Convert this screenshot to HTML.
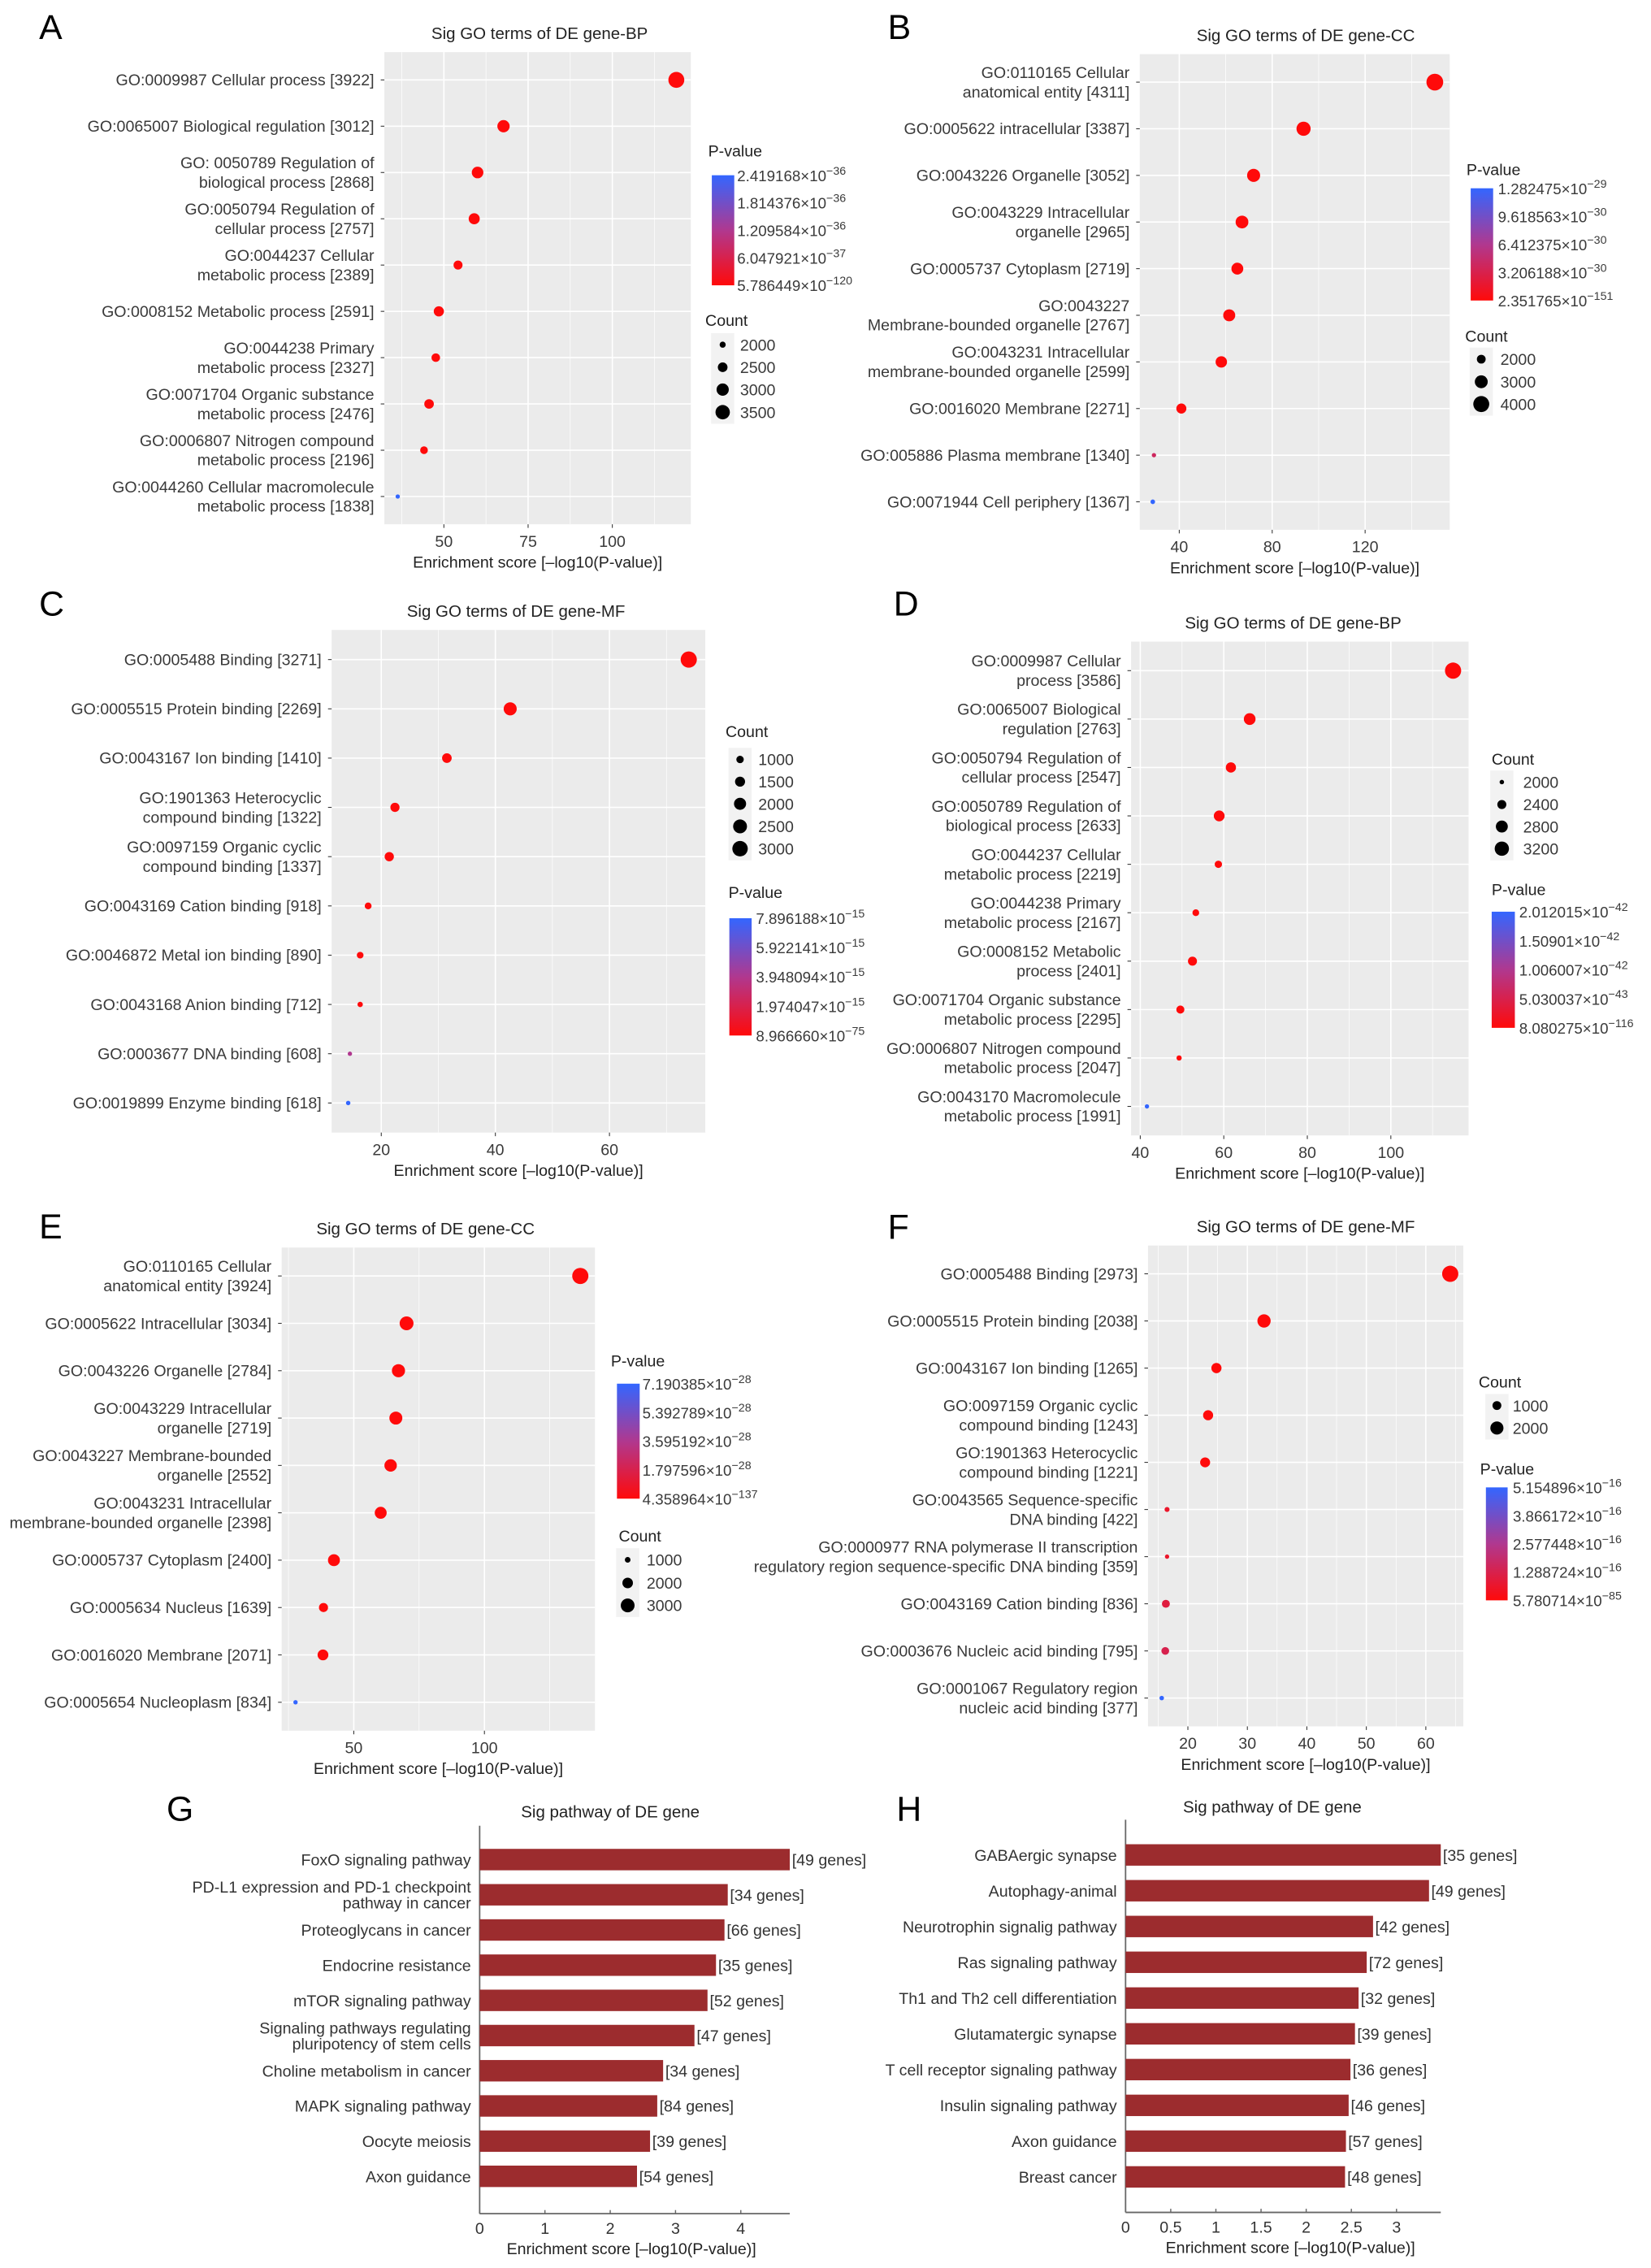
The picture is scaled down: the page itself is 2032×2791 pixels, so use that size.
<!DOCTYPE html>
<html><head><meta charset="utf-8"><title>GO enrichment figure</title>
<style>
html,body{margin:0;padding:0;background:#fff;}
svg{display:block;}
text{font-family:"Liberation Sans",Arial,sans-serif;}
</style></head>
<body>
<svg id="fig" xmlns="http://www.w3.org/2000/svg" width="2032" height="2791" viewBox="0 0 1140 1566" preserveAspectRatio="none">
<defs>
<linearGradient id="pgrad" x1="0" y1="0" x2="0" y2="1">
<stop offset="0" stop-color="#3366ff"/><stop offset="0.5" stop-color="#b0388f"/><stop offset="1" stop-color="#ff0a0a"/>
</linearGradient>
</defs>
</svg>
<script>
// ---------- DATA ----------
const aLabels = ["GO:0009987 Cellular process [3922]","GO:0065007 Biological regulation [3012]","GO: 0050789 Regulation of|biological process [2868]","GO:0050794 Regulation of|cellular process [2757]","GO:0044237 Cellular|metabolic process [2389]","GO:0008152 Metabolic process [2591]","GO:0044238 Primary|metabolic process [2327]","GO:0071704 Organic substance|metabolic process [2476]","GO:0006807 Nitrogen compound|metabolic process [2196]","GO:0044260 Cellular macromolecule|metabolic process [1838]"];
const aScores = [119, 67.7, 60, 59, 54.2, 48.5, 47.6, 45.6, 44.1, 36.3];
const aCounts = [3922, 3012, 2868, 2757, 2389, 2591, 2327, 2476, 2196, 1838];
const aTicks = [50, 75, 100];
const aPLabels = [["2.419168×10","−36"],["1.814376×10","−36"],["1.209584×10","−36"],["6.047921×10","−37"],["5.786449×10","−120"]];
const aCountBreaks = [2000, 2500, 3000, 3500];

const bLabels = ["GO:0110165 Cellular|anatomical entity [4311]","GO:0005622 intracellular [3387]","GO:0043226 Organelle [3052]","GO:0043229 Intracellular|organelle [2965]","GO:0005737 Cytoplasm [2719]","GO:0043227|Membrane-bounded organelle [2767]","GO:0043231 Intracellular|membrane-bounded organelle [2599]","GO:0016020 Membrane [2271]","GO:005886 Plasma membrane [1340]","GO:0071944 Cell periphery [1367]"];
const bScores = [150, 93.5, 72, 67, 65, 61.5, 58.1, 40.9, 29.1, 28.6];
const bCounts = [4311, 3387, 3052, 2965, 2719, 2767, 2599, 2271, 1340, 1367];
const bTicks = [40, 80, 120];
const bPLabels = [["1.282475×10","−29"],["9.618563×10","−30"],["6.412375×10","−30"],["3.206188×10","−30"],["2.351765×10","−151"]];
const bCountBreaks = [2000, 3000, 4000];

const cLabels = ["GO:0005488 Binding [3271]","GO:0005515 Protein binding [2269]","GO:0043167 Ion binding [1410]","GO:1901363 Heterocyclic|compound binding [1322]","GO:0097159 Organic cyclic|compound binding [1337]","GO:0043169 Cation binding [918]","GO:0046872 Metal ion binding [890]","GO:0043168 Anion binding [712]","GO:0003677 DNA binding [608]","GO:0019899 Enzyme binding [618]"];
const cScores = [73.9, 42.6, 31.5, 22.4, 21.4, 17.7, 16.3, 16.3, 14.5, 14.2];
const cCounts = [3271, 2269, 1410, 1322, 1337, 918, 890, 712, 608, 618];
const cTicks = [20, 40, 60];
const cPLabels = [["7.896188×10","−15"],["5.922141×10","−15"],["3.948094×10","−15"],["1.974047×10","−15"],["8.966660×10","−75"]];
const cCountBreaks = [1000, 1500, 2000, 2500, 3000];

const dLabels = ["GO:0009987 Cellular|process [3586]","GO:0065007 Biological|regulation [2763]","GO:0050794 Regulation of|cellular process [2547]","GO:0050789 Regulation of|biological process [2633]","GO:0044237 Cellular|metabolic process [2219]","GO:0044238 Primary|metabolic process [2167]","GO:0008152 Metabolic|process [2401]","GO:0071704 Organic substance|metabolic process [2295]","GO:0006807 Nitrogen compound|metabolic process [2047]","GO:0043170 Macromolecule|metabolic process [1991]"];
const dScores = [114.9, 66.2, 61.7, 58.9, 58.7, 53.3, 52.5, 49.6, 49.3, 41.6];
const dCounts = [3586, 2763, 2547, 2633, 2219, 2167, 2401, 2295, 2047, 1991];
const dTicks = [40, 60, 80, 100];
const dPLabels = [["2.012015×10","−42"],["1.50901×10","−42"],["1.006007×10","−42"],["5.030037×10","−43"],["8.080275×10","−116"]];
const dCountBreaks = [2000, 2400, 2800, 3200];

const eLabels = ["GO:0110165 Cellular|anatomical entity [3924]","GO:0005622 Intracellular [3034]","GO:0043226 Organelle [2784]","GO:0043229 Intracellular|organelle [2719]","GO:0043227  Membrane-bounded|organelle [2552]","GO:0043231 Intracellular|membrane-bounded organelle [2398]","GO:0005737 Cytoplasm [2400]","GO:0005634 Nucleus [1639]","GO:0016020 Membrane [2071]","GO:0005654 Nucleoplasm [834]"];
const eScores = [136.7, 70.2, 67.1, 66.1, 64.1, 60.3, 42.4, 38.4, 38.2, 27.7];
const eCounts = [3924, 3034, 2784, 2719, 2552, 2398, 2400, 1639, 2071, 834];
const eTicks = [50, 100];
const ePLabels = [["7.190385×10","−28"],["5.392789×10","−28"],["3.595192×10","−28"],["1.797596×10","−28"],["4.358964×10","−137"]];
const eCountBreaks = [1000, 2000, 3000];

const fLabels = ["GO:0005488 Binding [2973]","GO:0005515 Protein binding [2038]","GO:0043167 Ion binding [1265]","GO:0097159 Organic cyclic|compound  binding [1243]","GO:1901363 Heterocyclic|compound  binding [1221]","GO:0043565 Sequence-specific|DNA binding [422]","GO:0000977 RNA polymerase II transcription|regulatory region sequence-specific DNA binding [359]","GO:0043169 Cation binding [836]","GO:0003676 Nucleic acid binding [795]","GO:0001067 Regulatory region|nucleic acid binding [377]"];
const fScores = [64.1, 32.8, 24.8, 23.4, 22.9, 16.5, 16.5, 16.3, 16.2, 15.6];
const fCounts = [2973, 2038, 1265, 1243, 1221, 422, 359, 836, 795, 377];
const fTicks = [20, 30, 40, 50, 60];
const fPLabels = [["5.154896×10","−16"],["3.866172×10","−16"],["2.577448×10","−16"],["1.288724×10","−16"],["5.780714×10","−85"]];
const fCountBreaks = [1000, 2000];

const gPathways = ["FoxO signaling pathway","PD-L1 expression and PD-1 checkpoint|pathway in cancer","Proteoglycans in cancer","Endocrine resistance","mTOR signaling pathway","Signaling pathways regulating|pluripotency of stem cells","Choline metabolism in cancer","MAPK signaling pathway","Oocyte meiosis","Axon guidance"];
const gScores = [4.75, 3.80, 3.75, 3.62, 3.49, 3.29, 2.81, 2.72, 2.61, 2.41];
const gGenes = [49, 34, 66, 35, 52, 47, 34, 84, 39, 54];
const gTicks = [0, 1, 2, 3, 4];
const gTickLabels = ["0","1","2","3","4"];

const hPathways = ["GABAergic synapse","Autophagy-animal","Neurotrophin signalig pathway","Ras signaling pathway","Th1 and Th2 cell differentiation","Glutamatergic synapse","T cell receptor signaling pathway","Insulin signaling pathway","Axon guidance","Breast cancer"];
const hScores = [3.49, 3.36, 2.74, 2.67, 2.58, 2.54, 2.49, 2.47, 2.44, 2.43];
const hGenes = [35, 49, 42, 72, 32, 39, 36, 46, 57, 48];
const hTicks = [0, 0.5, 1, 1.5, 2, 2.5, 3];
const hTickLabels = ["0","0.5","1","1.5","2","2.5","3"];

// ---------- DRAWING ----------
const NS = "http://www.w3.org/2000/svg";
const svg = document.getElementById('fig');
function mk(tag, attrs, parent) {
  const el = document.createElementNS(NS, tag);
  for (const k in attrs) el.setAttribute(k, attrs[k]);
  (parent || svg).appendChild(el);
  return el;
}
function lerp(a, b, t) { return Math.round(a + (b - a) * t); }
function colorFor(t) {
  const r = t < 0.5 ? lerp(255, 176, t * 2) : lerp(176, 51, (t - 0.5) * 2);
  const g = t < 0.5 ? lerp(10, 56, t * 2) : lerp(56, 102, (t - 0.5) * 2);
  const b = t < 0.5 ? lerp(10, 143, t * 2) : lerp(143, 255, (t - 0.5) * 2);
  return `rgb(${r},${g},${b})`;
}

function dotPanel(P) {
  const g = mk('g', {});
  
  
  const xs = v => P.x0 + (v - P.dmin) / (P.dmax - P.dmin) * (P.x1 - P.x0);
  const n = P.labels.length;
  const step = (P.y1 - P.y0) / (n - 1 + 1.2);
  const ys = i => P.y0 + 0.6 * step + i * step;

  const bg = mk('rect', {x: P.x0, y: P.y0, width: P.x1 - P.x0, height: P.y1 - P.y0, fill: '#ebebeb'}, g);
  
  

  const minors = [];
  const tk = P.ticks, d = tk[1] - tk[0];
  for (let v = tk[0] - d / 2; v <= P.dmax; v += d) if (v >= P.dmin) minors.push(v);
  minors.forEach(v => {
    const l = mk('line', {x1: xs(v), x2: xs(v), y1: P.y0, y2: P.y1, stroke: '#fff', 'stroke-width': 0.4}, g);
    
    
  });
  tk.forEach(v => {
    const l = mk('line', {x1: xs(v), x2: xs(v), y1: P.y0, y2: P.y1, stroke: '#fff', 'stroke-width': 0.9}, g);
    
    
  });
  for (let i = 0; i < n; i++) {
    const l = mk('line', {x1: P.x0, x2: P.x1, y1: ys(i), y2: ys(i), stroke: '#fff', 'stroke-width': 0.9}, g);
    
    
  }

  const cmin = Math.min(...P.counts), cmax = Math.max(...P.counts);
  const smin = Math.min(...P.scores);
  const rmin = 1.5, rmax = P.rmax;
  const rad = c => {
    const f = Math.max(0, (c - cmin) / (cmax - cmin));
    return Math.sqrt(rmin * rmin + (rmax * rmax - rmin * rmin) * f);
  };
  for (let i = 0; i < n; i++) {
    const t = Math.pow(10, -(P.scores[i] - smin));
    const c = mk('circle', {cx: xs(P.scores[i]), cy: ys(i), r: rad(P.counts[i]), fill: colorFor(t)}, g);
    
    
    const tm = mk('line', {x1: P.x0 - 2.5, x2: P.x0, y1: ys(i), y2: ys(i), stroke: '#333', 'stroke-width': 0.6}, g);
    
    
    const lines = P.labels[i].split('|');
    const lh = 13.4;
    const top = ys(i) - (lines.length - 1) * lh / 2 + 3.8;
    lines.forEach((ln, k) => {
      const tx = mk('text', {x: P.x0 - 7, y: top + k * lh, 'text-anchor': 'end', 'font-size': 11, fill: '#3a3a3a'}, g);
      
      
      tx.setAttribute('xml:space', 'preserve');
      tx.textContent = ln;
    });
  }
  tk.forEach(v => {
    const tm = mk('line', {x1: xs(v), x2: xs(v), y1: P.y1, y2: P.y1 + 2.5, stroke: '#333', 'stroke-width': 0.6}, g);
    
    
    const tl = mk('text', {x: xs(v), y: P.y1 + 15.5, 'text-anchor': 'middle', 'font-size': 11, fill: '#3a3a3a'}, g);
    
    
    tl.textContent = v;
  });
  const xt = mk('text', {x: (P.x0 + P.x1) / 2, y: P.y1 + 30, 'text-anchor': 'middle', 'font-size': 11, fill: '#222'}, g);
  
  
  xt.textContent = 'Enrichment score [\u2013log10(P-value)]';
  const tt = mk('text', {x: P.titleX, y: P.y0 - 9, 'text-anchor': 'middle', 'font-size': 11.5, fill: '#222'}, g);
  
  
  tt.textContent = P.title;
  const lt = mk('text', {x: P.letterX, y: P.letterY, 'font-size': 24, fill: '#000'}, g);
  
  
  lt.textContent = P.letter;

  const L = P.leg;
  const pt = mk('text', {x: L.pX, y: L.pY + 4, 'font-size': 11, fill: '#222'}, g);
  
  
  pt.textContent = 'P-value';
  const bar = mk('rect', {x: L.bX, y: L.bY0, width: L.bW, height: L.bY1 - L.bY0, fill: 'url(#pgrad)'}, g);
  
  
  P.pLabels.forEach((pl, i) => {
    const y = L.bY0 + i * (L.bY1 - L.bY0) / 4 + 4;
    const tx = mk('text', {x: L.lX, y: y, 'font-size': 10.5, fill: '#3a3a3a'}, g);
    
    
    const s1 = mk('tspan', {}, tx);
    
    
    s1.textContent = pl[0];
    const s2 = mk('tspan', {dy: -4.5, 'font-size': 8}, tx);
    
    
    s2.textContent = pl[1];
  });
  const ct = mk('text', {x: L.cX, y: L.cY + 4, 'font-size': 11, fill: '#222'}, g);
  
  
  ct.textContent = 'Count';
  const ys0 = L.cYs[0] - 8, ys1 = L.cYs[L.cYs.length - 1] + 8;
  const kb = mk('rect', {x: L.dX - 8, y: ys0, width: 16, height: ys1 - ys0, fill: '#f2f2f2'}, g);
  
  
  P.countBreaks.forEach((cb, i) => {
    const c = mk('circle', {cx: L.dX, cy: L.cYs[i], r: rad(cb), fill: '#000'}, g);
    
    
    const tx = mk('text', {x: L.clX, y: L.cYs[i] + 4, 'font-size': 11, fill: '#3a3a3a'}, g);
    
    
    tx.textContent = cb;
  });
}

function barPanel(P) {
  const g = mk('g', {});
  
  
  const xs = v => P.x0 + v * P.ppu;
  const xmax = Math.max(...P.scores);
  const n = P.labels.length;
  const ys = i => P.firstY + i * P.step;
  const va = mk('line', {x1: P.x0, x2: P.x0, y1: P.axTop, y2: P.axY, stroke: '#666', 'stroke-width': 1}, g);
  
  
  const ha = mk('line', {x1: P.x0, x2: xs(xmax), y1: P.axY, y2: P.axY, stroke: '#666', 'stroke-width': 1}, g);
  
  
  for (let i = 0; i < n; i++) {
    const b = mk('rect', {x: P.x0, y: ys(i) - 7.4, width: xs(P.scores[i]) - P.x0, height: 14.8, fill: '#9c2c2e'}, g);
    
    
    const gl = mk('text', {x: xs(P.scores[i]) + 1.5, y: ys(i) + 4, 'font-size': 11, fill: '#333'}, g);
    
    
    gl.textContent = '[' + P.genes[i] + ' genes]';
    const lines = P.labels[i].split('|');
    const lh = 11;
    const top = ys(i) - (lines.length - 1) * lh / 2 + 4;
    lines.forEach((ln, k) => {
      const tx = mk('text', {x: P.x0 - 6, y: top + k * lh, 'text-anchor': 'end', 'font-size': 11, fill: '#333'}, g);
      
      
      tx.textContent = ln;
    });
  }
  P.ticks.forEach((v, i) => {
    const tm = mk('line', {x1: xs(v), x2: xs(v), y1: P.axY - 2.5, y2: P.axY, stroke: '#666', 'stroke-width': 0.8}, g);
    
    
    const tl = mk('text', {x: xs(v), y: P.axY + 14, 'text-anchor': 'middle', 'font-size': 11, fill: '#333'}, g);
    
    
    tl.textContent = P.tickLabels[i];
  });
  const xt = mk('text', {x: P.xtX, y: P.axY + 28, 'text-anchor': 'middle', 'font-size': 11, fill: '#222'}, g);
  
  
  xt.textContent = 'Enrichment score [\u2013log10(P-value)]';
  const tt = mk('text', {x: P.titleX, y: P.titleY, 'text-anchor': 'middle', 'font-size': 11.5, fill: '#222'}, g);
  
  
  tt.textContent = 'Sig pathway of DE gene';
  const lt = mk('text', {x: P.letterX, y: P.letterY, 'font-size': 24, fill: '#000'}, g);
  
  
  lt.textContent = P.letter;
}

dotPanel({name:'panel-a', letter:'A', letterX:27, letterY:27, title:'Sig GO terms of DE gene-BP', titleX:372.6,
  labels:aLabels, scores:aScores, counts:aCounts, ticks:aTicks, pLabels:aPLabels, countBreaks:aCountBreaks,
  x0:265.4, x1:477, y0:36, y1:362, dmin:32.33, dmax:123.3, rmax:5.5,
  leg:{pX:489, pY:104, bX:491.5, bW:15.5, bY0:121, bY1:197, lX:509, cX:487, cY:221, cYs:[238,253.6,269,284.6], dX:499, clX:511}});
dotPanel({name:'panel-b', letter:'B', letterX:613, letterY:27, title:'Sig GO terms of DE gene-CC', titleX:901.6,
  labels:bLabels, scores:bScores, counts:bCounts, ticks:bTicks, pLabels:bPLabels, countBreaks:bCountBreaks,
  x0:787, x1:1001, y0:37.4, y1:365.8, dmin:23.0, dmax:156.4, rmax:5.8,
  leg:{pX:1012.6, pY:117, bX:1015.5, bW:15.5, bY0:130, bY1:207.5, lX:1034.3, cX:1011.7, cY:232, cYs:[248,263.6,279], dX:1022.8, clX:1036}});
dotPanel({name:'panel-c', letter:'C', letterX:27, letterY:425, title:'Sig GO terms of DE gene-MF', titleX:356.3,
  labels:cLabels, scores:cScores, counts:cCounts, ticks:cTicks, pLabels:cPLabels, countBreaks:cCountBreaks,
  x0:229, x1:487, y0:435, y1:782, dmin:11.3, dmax:76.8, rmax:5.6,
  leg:{pX:503, pY:616, bX:503.6, bW:15.4, bY0:634, bY1:715, lX:522, cX:501, cY:505, cYs:[524.4,539.7,555,570.6,586], dX:511, clX:523.6}});
dotPanel({name:'panel-d', letter:'D', letterX:617, letterY:425, title:'Sig GO terms of DE gene-BP', titleX:892.9,
  labels:dLabels, scores:dScores, counts:dCounts, ticks:dTicks, pLabels:dPLabels, countBreaks:dCountBreaks,
  x0:781, x1:1014, y0:443, y1:784, dmin:37.8, dmax:118.6, rmax:5.6,
  leg:{pX:1030, pY:614, bX:1030, bW:16, bY0:629.5, bY1:709.7, lX:1049, cX:1030, cY:524, cYs:[540,555.5,570.7,586], dX:1037, clX:1051.7}});
dotPanel({name:'panel-e', letter:'E', letterX:27, letterY:855, title:'Sig GO terms of DE gene-CC', titleX:293.8,
  labels:eLabels, scores:eScores, counts:eCounts, ticks:eTicks, pLabels:ePLabels, countBreaks:eCountBreaks,
  x0:194.5, x1:410.8, y0:861.4, y1:1195, dmin:22.4, dmax:142.3, rmax:5.6,
  leg:{pX:421.8, pY:939.5, bX:426, bW:15.7, bY0:955.4, bY1:1034.8, lX:443.6, cX:427.2, cY:1060.5, cYs:[1077,1093,1108.5], dX:433.4, clX:446.5}});
dotPanel({name:'panel-f', letter:'F', letterX:613, letterY:855.5, title:'Sig GO terms of DE gene-MF', titleX:901.6,
  labels:fLabels, scores:fScores, counts:fCounts, ticks:fTicks, pLabels:fPLabels, countBreaks:fCountBreaks,
  x0:792.7, x1:1010.4, y0:860, y1:1192, dmin:13.3, dmax:66.3, rmax:5.6,
  leg:{pX:1022, pY:1014, bX:1026, bW:15, bY0:1027, bY1:1105, lX:1044.6, cX:1021, cY:954, cYs:[970.5,986], dX:1033.6, clX:1044.5}});

barPanel({name:'panel-g', letter:'G', letterX:115, letterY:1257, labels:gPathways, scores:gScores, genes:gGenes,
  ticks:gTicks, tickLabels:gTickLabels, x0:331.2, ppu:45.08, firstY:1284, step:24.3, axTop:1260.6, axY:1528.5,
  xtX:436, titleX:421.4, titleY:1255});
barPanel({name:'panel-h', letter:'H', letterX:619, letterY:1257, labels:hPathways, scores:hScores, genes:hGenes,
  ticks:hTicks, tickLabels:hTickLabels, x0:777.2, ppu:62.36, firstY:1280.8, step:24.7, axTop:1256.5, axY:1527.6,
  xtX:891, titleX:878.5, titleY:1251.5});
</script>
</body></html>
